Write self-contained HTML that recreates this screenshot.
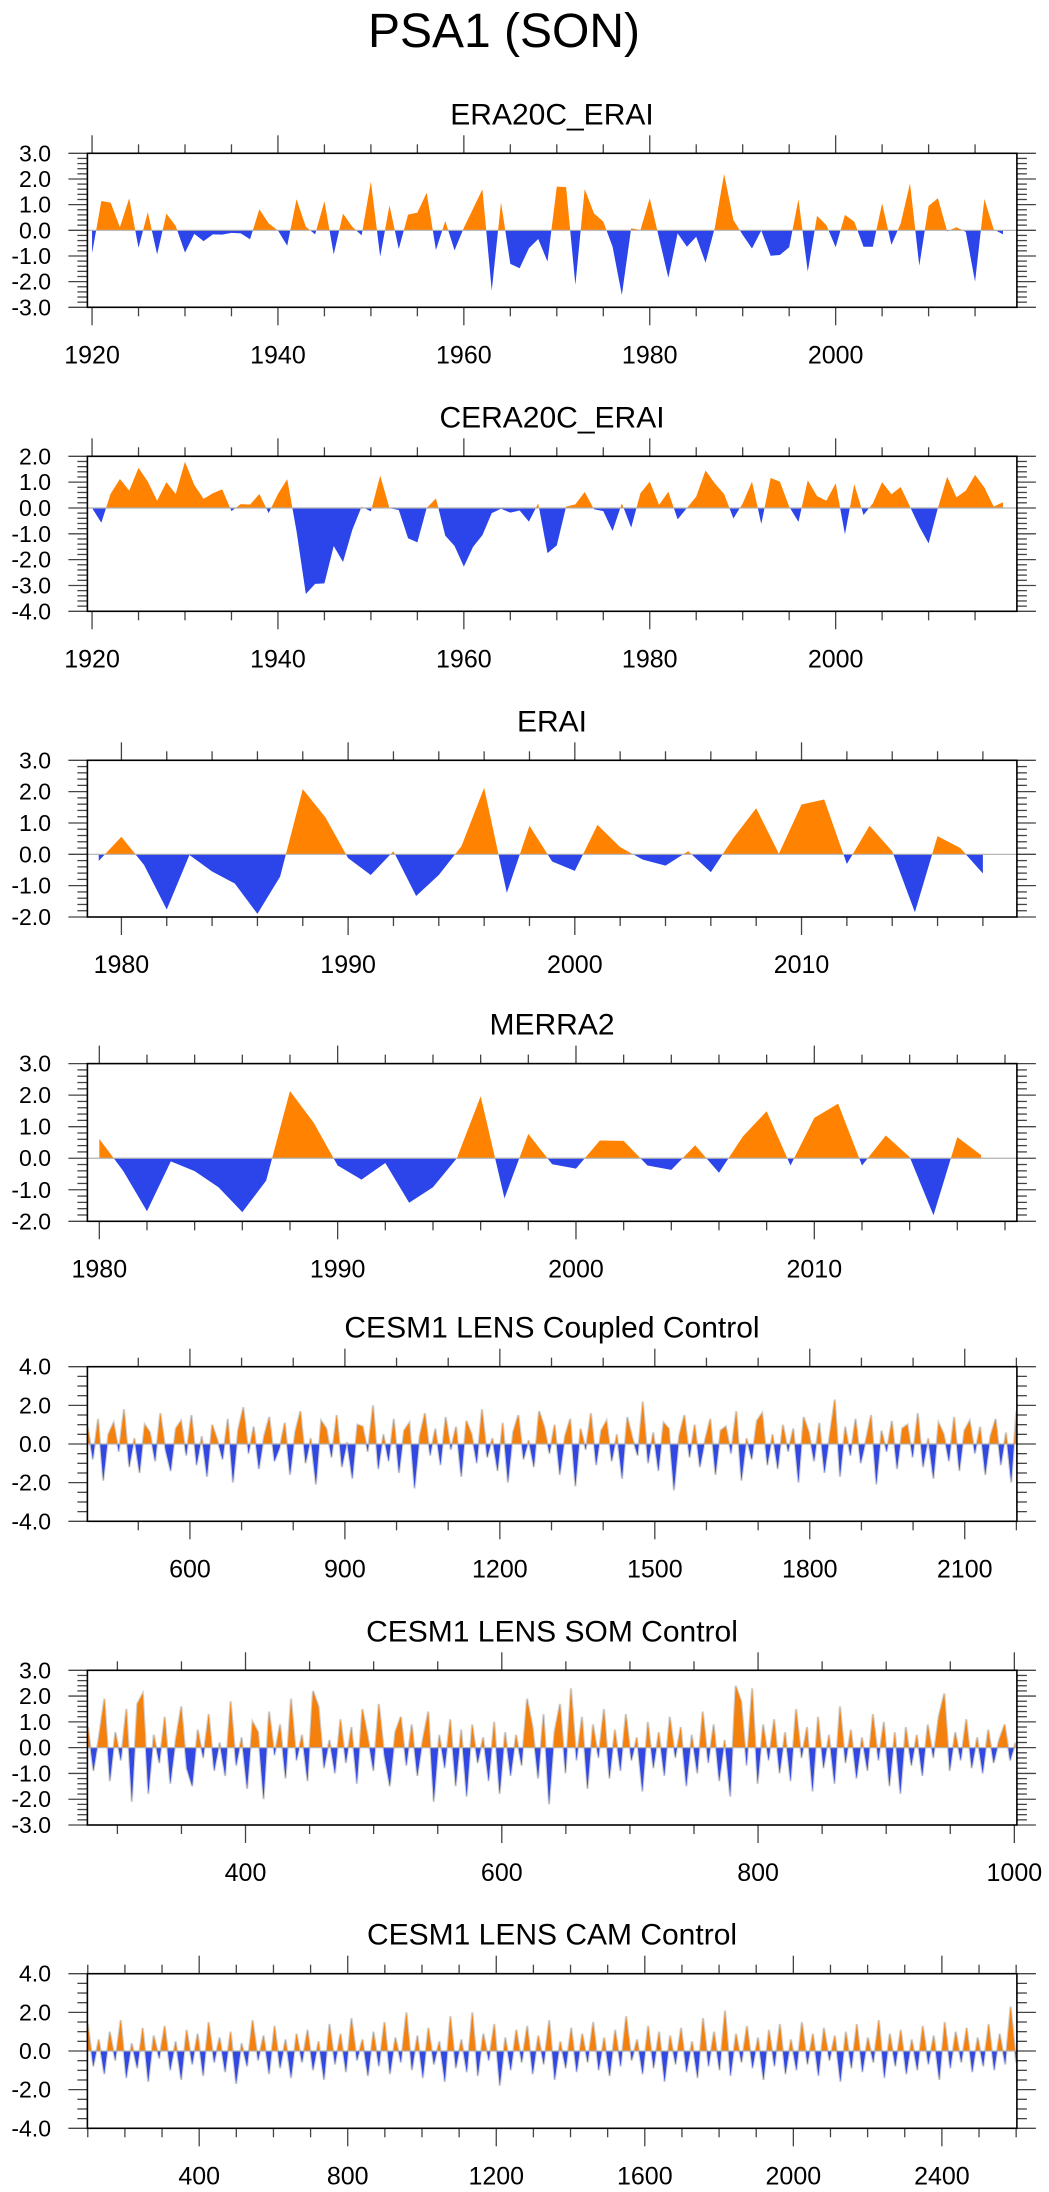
<!DOCTYPE html>
<html><head><meta charset="utf-8"><title>PSA1 (SON)</title>
<style>
html,body{margin:0;padding:0;background:#fff;}
svg{display:block;font-family:"Liberation Sans",Arial,sans-serif;}
</style></head>
<body>
<svg id="chart" width="1049" height="2192" viewBox="0 0 1049 2192" xmlns="http://www.w3.org/2000/svg">
<rect width="1049" height="2192" fill="#fff"/>
<text x="504" y="47" font-size="48" text-anchor="middle" fill="#000">PSA1 (SON)</text>
</svg>
<script>
// ---- data ----
const era20cStart = 1920;
const era20cValues = [-0.9,1.14,1.08,0.12,1.25,-0.68,0.71,-0.94,0.65,0.17,
-0.87,-0.14,-0.42,-0.16,-0.17,-0.1,-0.12,-0.35,0.82,0.27,
-0.01,-0.6,1.21,0.14,-0.16,1.13,-0.94,0.65,0.14,-0.2,
1.9,-1.03,0.97,-0.73,0.61,0.69,1.47,-0.77,0.36,-0.78,
0.1,0.85,1.6,-2.35,1.09,-1.31,-1.48,-0.7,-0.34,-1.22,
1.7,1.68,-2.13,1.61,0.66,0.34,-0.64,-2.52,0.08,0.01,
1.25,-0.3,-1.85,-0.12,-0.64,-0.25,-1.26,0.1,2.2,0.4,
-0.18,-0.71,-0.01,-0.99,-0.96,-0.66,1.21,-1.61,0.56,0.2,
-0.66,0.6,0.34,-0.64,-0.64,1.05,-0.57,0.27,1.83,-1.38,
0.95,1.25,-0.04,0.12,-0.06,-2.0,1.22,0.04,-0.16];
const cera20cStart = 1920;
const cera20cValues = [0,-0.57,0.55,1.12,0.67,1.55,1.02,0.28,1.0,0.54,
1.79,0.89,0.35,0.57,0.72,-0.12,0.15,0.13,0.54,-0.2,
0.54,1.11,-0.9,-3.33,-2.94,-2.92,-1.47,-2.09,-0.85,0.05,
-0.13,1.25,-0.01,-0.08,-1.17,-1.33,0,0.37,-1.07,-1.47,
-2.27,-1.5,-1.05,-0.2,-0.03,-0.18,-0.1,-0.53,0.18,-1.75,
-1.45,0.05,0.14,0.62,-0.05,-0.12,-0.89,0.18,-0.76,0.57,
1.02,0.12,0.63,-0.44,0,0.44,1.45,0.95,0.54,-0.41,
0.18,1.02,-0.62,1.16,1.02,0.05,-0.54,1.07,0.46,0.28,
0.95,-1.02,0.92,-0.27,0.18,1.0,0.53,0.81,0.05,-0.72,
-1.37,0,1.21,0.41,0.67,1.28,0.79,0.05,0.22];
const eraiStart = 1979;
const eraiValues = [-0.21,0.56,-0.34,-1.76,-0.02,-0.55,-0.93,-1.9,-0.71,2.08,
1.18,-0.12,-0.66,0.1,-1.33,-0.66,0.26,2.12,-1.23,0.91,
-0.23,-0.53,0.94,0.23,-0.17,-0.36,0.1,-0.57,0.53,1.47,
0.02,1.59,1.75,-0.31,0.91,0.1,-1.85,0.58,0.2,-0.61];
const merraStart = 1980;
const merraValues = [0.61,-0.4,-1.68,-0.1,-0.41,-0.92,-1.71,-0.71,2.13,1.12,
-0.23,-0.68,-0.15,-1.41,-0.92,0,1.96,-1.27,0.77,-0.19,
-0.33,0.56,0.55,-0.23,-0.37,0.41,-0.46,0.69,1.49,-0.23,
1.28,1.73,-0.23,0.72,0.04,-1.81,0.67,0.1];
const coupledRange = [402, 2200];
const coupledValues = [0.9,-0.8,1.3,-1.9,0.5,1.1,-0.4,1.8,-1.2,0.3,-1.5,1.0,0.6,-0.9,1.6,-0.3,-1.4,0.8,1.2,-0.6,
1.5,-1.1,0.4,-1.7,1.0,0.2,-0.8,1.3,-2.0,0.7,1.9,-0.5,0.9,-1.3,0.4,1.4,-0.9,-0.2,1.1,-1.6,
0.6,1.7,-1.0,0.3,-2.1,1.2,0.8,-0.7,1.5,-1.2,0.1,-1.8,1.0,0.9,-0.4,2.0,-1.3,0.5,-0.9,1.3,
-1.5,0.7,1.1,-2.3,0.4,1.6,-0.6,0.8,-1.1,1.4,-0.3,0.9,-1.7,1.2,0.5,-1.0,1.8,-0.7,0.3,-1.4,
1.1,-2.0,0.6,1.5,-0.8,0.2,-1.2,1.7,0.9,-0.5,1.0,-1.6,0.4,1.3,-2.2,0.8,-0.3,1.6,-1.1,0.7,
1.2,-0.9,0.5,-1.8,1.4,0.3,-0.6,2.2,-1.0,0.6,-1.4,1.1,0.8,-2.4,0.4,1.5,-0.7,1.0,-1.2,0.2,
1.3,-1.6,0.7,0.9,-0.5,1.7,-1.9,0.3,-0.8,1.2,1.6,-1.1,0.5,-1.3,1.0,-0.4,0.8,-2.0,1.4,0.6,
-0.9,1.1,-1.5,0.4,2.3,-1.7,0.9,-0.6,1.3,-1.0,0.2,1.5,-2.1,0.7,-0.4,1.2,-1.3,0.8,1.0,-0.7,
1.6,-1.2,0.3,-1.8,1.1,0.5,-0.9,1.4,-1.4,0.7,1.2,-0.5,0.9,-1.6,0.4,1.3,-1.1,0.6,-2.0,1.7];
const somRange = [277, 1001];
const somValues = [0.8,-0.9,0.4,1.9,-1.3,0.6,-0.5,1.5,-2.1,1.7,2.1,-1.8,0.5,-0.6,1.2,-1.4,0.3,1.6,-0.8,-1.5,
0.7,-0.4,1.3,-0.9,0.2,-1.1,1.8,-0.7,0.4,-1.6,1.0,0.6,-2.0,1.4,-0.3,0.9,-1.2,1.9,-0.5,0.5,
-1.3,2.2,1.6,-0.8,0.3,-1.0,1.1,-0.6,0.8,-1.4,1.5,0.4,-0.9,1.7,-0.3,-1.5,0.6,1.2,-0.7,0.9,
-1.1,0.3,1.4,-2.1,0.5,-0.8,1.1,-1.5,0.7,-1.9,0.9,-0.6,0.4,-1.3,1.0,-1.8,0.6,-1.1,0.5,-0.7,
1.9,0.8,-1.2,1.3,-2.2,0.6,1.7,-1.0,2.3,-0.5,1.2,-1.6,0.9,-0.4,1.5,-1.2,0.7,-0.9,1.3,-0.5,
0.4,-1.7,1.0,-0.8,0.6,-1.1,1.2,-0.4,0.8,-1.5,0.5,-1.0,1.4,-0.6,0.9,-1.3,0.3,-1.9,2.4,1.8,
-0.7,2.3,-1.4,0.9,-0.5,1.1,-1.0,0.6,-1.3,1.5,-0.4,0.8,-1.7,1.2,-0.8,0.5,-1.4,1.6,-0.6,0.7,
-1.2,0.4,-0.9,1.3,-0.5,1.0,-1.5,0.6,-1.8,0.8,-0.7,0.5,-1.1,0.9,-0.4,1.2,2.1,-0.9,0.6,-0.5,
1.1,-0.8,0.4,-1.0,0.7,-0.6,0.3,0.9,-0.5,0.2];
const camRange = [100, 2600];
const camValues = [1.4,-0.8,0.6,-1.2,1.0,-0.5,1.6,-1.4,0.4,-0.9,1.2,-1.6,0.8,-0.4,1.3,-1.0,0.5,-1.5,1.1,-0.7,
0.9,-1.3,1.5,-0.6,0.7,-1.1,1.0,-1.7,0.4,-0.8,1.6,-0.5,0.8,-1.2,1.3,-0.9,0.6,-1.4,0.9,-0.6,
1.1,-1.0,0.5,-1.5,1.4,-0.7,0.9,-1.1,1.7,-0.5,0.6,-1.3,1.0,-0.8,1.5,-1.2,0.7,-0.6,2.0,-1.0,
0.8,-1.4,1.2,-0.7,0.5,-1.6,1.8,-0.9,0.6,-1.1,2.0,-1.3,0.9,-0.5,1.4,-1.8,0.7,-1.0,1.1,-0.6,
1.3,-1.2,0.8,-0.7,1.6,-1.5,0.5,-0.9,1.2,-1.1,0.9,-0.6,1.5,-1.0,0.7,-1.3,1.1,-0.8,1.8,-0.5,
0.6,-1.2,1.3,-0.9,1.0,-1.6,0.8,-0.7,1.2,-1.1,0.5,-1.4,1.7,-0.8,1.0,-1.0,2.1,-1.3,0.9,-0.6,
1.3,-0.9,0.7,-1.5,1.1,-0.8,1.4,-1.2,0.6,-1.0,1.5,-0.7,0.9,-1.3,1.2,-0.5,0.8,-1.6,1.0,-0.9,
1.4,-1.1,0.7,-0.6,1.6,-1.4,0.9,-0.8,1.1,-1.2,0.6,-1.0,1.3,-0.7,0.8,-1.5,1.5,-0.9,1.0,-0.6,
1.2,-1.1,0.7,-0.8,1.4,-1.0,0.9,-0.7,2.3,-0.6];

// ---- panel layout ----
const panels = [
 {name:"era20c-erai", title:"ERA20C_ERAI", top:153.3, bot:307.3, ymin:-3, ymax:3, ymaj:1, ymnr:0.2, xmin:1919.5, xmax:2019.5, xmaj:[1920,2000,20], xmnr:5, kind:"area", start:era20cStart, vals:era20cValues},
 {name:"cera20c-erai", title:"CERA20C_ERAI", top:456.3, bot:611.3, ymin:-4, ymax:2, ymaj:1, ymnr:0.2, xmin:1919.5, xmax:2019.5, xmaj:[1920,2000,20], xmnr:5, kind:"area", start:cera20cStart, vals:cera20cValues},
 {name:"erai", title:"ERAI", top:760.3, bot:917, ymin:-2, ymax:3, ymaj:1, ymnr:0.2, xmin:1978.5, xmax:2019.5, xmaj:[1980,2010,10], xmnr:2, kind:"area", start:eraiStart, vals:eraiValues},
 {name:"merra2", title:"MERRA2", top:1063.6, bot:1221.3, ymin:-2, ymax:3, ymaj:1, ymnr:0.2, xmin:1979.5, xmax:2018.5, xmaj:[1980,2010,10], xmnr:2, kind:"area", start:merraStart, vals:merraValues},
 {name:"coupled-control", title:"CESM1 LENS Coupled Control", top:1366.7, bot:1521.3, ymin:-4, ymax:4, ymaj:2, ymnr:0.5, xmin:401.5, xmax:2201, xmaj:[600,2100,300], xmnr:100, kind:"dense", range:coupledRange, vals:coupledValues},
 {name:"som-control", title:"CESM1 LENS SOM Control", top:1670.3, bot:1825, ymin:-3, ymax:3, ymaj:1, ymnr:0.2, xmin:276.6, xmax:1002, xmaj:[400,1000,200], xmnr:50, kind:"dense", range:somRange, vals:somValues},
 {name:"cam-control", title:"CESM1 LENS CAM Control", top:1973.7, bot:2128.3, ymin:-4, ymax:4, ymaj:2, ymnr:0.5, xmin:99, xmax:2602, xmaj:[400,2400,400], xmnr:100, kind:"dense", range:camRange, vals:camValues}
];
const L = 87.4, R = 1016.9;
const NS = "http://www.w3.org/2000/svg";
const svg = document.getElementById("chart");
function mk(tag, attrs, parent){
  const e = document.createElementNS(NS, tag);
  for (const k in attrs) e.setAttribute(k, attrs[k]);
  (parent||svg).appendChild(e);
  return e;
}
const ORANGE = "#ff8200", BLUE = "#2b45ea";

panels.forEach((p, pi) => {
  const g = mk("g", {});
  
  
  const xs = v => L + (v - p.xmin) / (p.xmax - p.xmin) * (R - L);
  const ys = v => p.top + (p.ymax - v) / (p.ymax - p.ymin) * (p.bot - p.top);
  const zy = ys(0);

  const t = mk("text", {x:552, y:p.top - 29, "font-size":30, "text-anchor":"middle", fill:"#000"}, g);
  t.textContent = p.title;
  
  

  const cid = "c" + pi;
  const defs = mk("defs", {}, g);
  const cpU = mk("clipPath", {id:cid+"u"}, defs);
  mk("rect", {x:L, y:p.top, width:R-L, height:zy-p.top}, cpU);
  const cpD = mk("clipPath", {id:cid+"d"}, defs);
  mk("rect", {x:L, y:zy, width:R-L, height:p.bot-zy}, cpD);
  const cpA = mk("clipPath", {id:cid+"a"}, defs);
  mk("rect", {x:L, y:p.top, width:R-L, height:p.bot-p.top}, cpA);

  const n = p.vals.length;
  const xOf = i => p.kind === "area" ? p.start + i : p.range[0] + i * (p.range[1] - p.range[0]) / (n - 1);

  let line = "";
  for (let i = 0; i < n; i++) line += (i ? "L" : "M") + xs(xOf(i)).toFixed(2) + "," + ys(p.vals[i]).toFixed(2);
  const d = "M" + xs(xOf(0)).toFixed(2) + "," + zy.toFixed(2) + line.replace(/^M/, "L") + "L" + xs(xOf(n-1)).toFixed(2) + "," + zy.toFixed(2) + "Z";

  if (p.kind === "dense") {
    const gl = mk("path", {d:line, fill:"none", stroke:"#cfcfcf", "stroke-width":2.2, "clip-path":"url(#"+cid+"a)"}, g);
    
    
  }
  const up = mk("path", {d:d, fill: p.kind === "dense" ? "#f4800e" : ORANGE, "clip-path":"url(#"+cid+"u)"}, g);
  
  
  const dn = mk("path", {d:d, fill: p.kind === "dense" ? "#3149e2" : BLUE, "clip-path":"url(#"+cid+"d)"}, g);
  
  

  const zl = mk("line", {x1:L, x2:R, y1:zy, y2:zy, stroke:"#b0b0b0", "stroke-width":1.2}, g);
  
  

  const tk = mk("g", {stroke:"#444", "stroke-width":1.3}, g);
  
  
  const ystepN = Math.round((p.ymax - p.ymin) / p.ymnr);
  for (let k = 0; k <= ystepN; k++) {
    const v = p.ymin + k * p.ymnr;
    const major = Math.abs(v / p.ymaj - Math.round(v / p.ymaj)) < 1e-6;
    const y = ys(v), len = major ? 19 : 10;
    mk("line", {x1:L-len, x2:L, y1:y, y2:y}, tk);
    mk("line", {x1:R, x2:R+len, y1:y, y2:y}, tk);
    if (major) {
      const lb = mk("text", {x:51, y:y+8, "font-size":23, "text-anchor":"end", fill:"#000", stroke:"none"}, g);
      lb.textContent = (Math.abs(v) < 1e-9 ? 0 : v).toFixed(1);
      
      
    }
  }
  const x0 = Math.ceil(p.xmin / p.xmnr) * p.xmnr;
  for (let v = x0; v <= p.xmax; v += p.xmnr) {
    const major = ((v - p.xmaj[0]) % p.xmaj[2] + p.xmaj[2]) % p.xmaj[2] === 0;
    const x = xs(v), len = major ? 18 : 9;
    mk("line", {x1:x, x2:x, y1:p.top-len, y2:p.top}, tk);
    mk("line", {x1:x, x2:x, y1:p.bot, y2:p.bot+len}, tk);
  }
  for (let v = p.xmaj[0]; v <= p.xmaj[1]; v += p.xmaj[2]) {
    const lb = mk("text", {x:xs(v), y:p.bot+56, "font-size":25, "text-anchor":"middle", fill:"#000"}, g);
    lb.textContent = String(v);
    
    
  }
  const fr = mk("rect", {x:L, y:p.top, width:R-L, height:p.bot-p.top, fill:"none", stroke:"#000", "stroke-width":1.6}, g);
  
  
});
</script>
</body></html>
